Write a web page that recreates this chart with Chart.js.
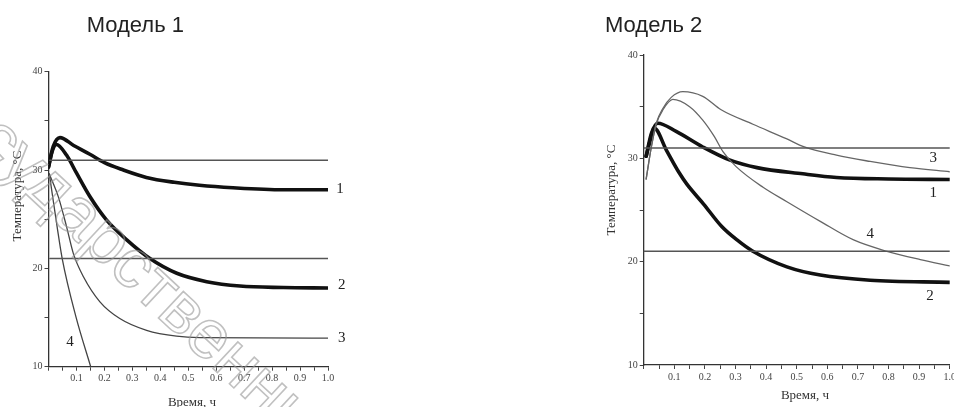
<!DOCTYPE html>
<html>
<head>
<meta charset="utf-8">
<script src="https://cdn.jsdelivr.net/npm/chart.js@4.4.1/dist/chart.umd.min.js"></script>
<style>
html,body{margin:0;padding:0;background:#fff;width:954px;height:407px;overflow:hidden;}
.box{position:absolute;top:0;}
#b1{left:0;width:400px;height:430px;}
#b2{left:560px;width:394px;height:430px;}
</style>
</head>
<body>
<div class="box" id="b1"><canvas id="c1" width="400" height="430"></canvas></div>
<div class="box" id="b2"><canvas id="c2" width="394" height="430"></canvas></div>
<script>
// ---------- text ----------
const chartTitles = ['Модель 1', 'Модель 2'];
const yAxisTitle = 'Температура, °С';
const xAxisTitle = 'Время, ч';
const curveNames = ['1', '2', '3', '4'];
const watermarkText = 'государственный';

// ---------- axes ----------
const xMin = 0, xMax = 1.0, xStep = 0.05;
const yMin = 10, yMax = 40, yStep = 5;
const xTickLabels = ['0.1','0.2','0.3','0.4','0.5','0.6','0.7','0.8','0.9','1.0'];
const yTickLabels = ['10','20','30','40'];

// ---------- Model 1 ----------
const m1_x1 = [0, 0.017, 0.041, 0.09, 0.148, 0.2, 0.268, 0.35, 0.45, 0.54, 0.66, 0.84, 1.0];
const m1_y1 = [30.3, 32.4, 33.3, 32.5, 31.6, 30.75, 30.0, 29.25, 28.75, 28.45, 28.2, 28.0, 28.0];
const m1_x2 = [0, 0.012, 0.028, 0.065, 0.1, 0.148, 0.208, 0.28, 0.363, 0.459, 0.566, 0.685, 0.84, 1.0];
const m1_y2 = [30.3, 31.8, 32.6, 31.5, 29.7, 27.3, 24.9, 22.9, 21.0, 19.5, 18.65, 18.2, 18.05, 18.0];
const m1_x3 = [0.003, 0.035, 0.065, 0.089, 0.125, 0.184, 0.255, 0.351, 0.458, 0.542, 1.0];
const m1_y3 = [29.6, 27.3, 24.2, 21.5, 19.15, 16.6, 14.9, 13.7, 13.1, 12.95, 12.9];
const m1_x4 = [0.003, 0.031, 0.049, 0.098, 0.151];
const m1_y4 = [29.6, 24.2, 21.0, 15.1, 10.0];
const m1_hx = [0.005, 1.0];
const m1_hA = [31, 31];
const m1_hB = [21, 21];
const m1_lblX = [1.043, 1.049, 1.049, 0.077];
const m1_lblY = [28.08, 18.31, 12.89, 12.54];

// ---------- Model 2 ----------
const m2_x1 = [0.008, 0.025, 0.046, 0.106, 0.193, 0.28, 0.37, 0.52, 0.63, 0.8, 1.0];
const m2_y1 = [30.2, 32.4, 33.4, 32.6, 31.1, 29.85, 29.1, 28.5, 28.15, 28.0, 27.95];
const m2_x2 = [0.008, 0.02, 0.035, 0.074, 0.117, 0.141, 0.195, 0.255, 0.305, 0.354, 0.468, 0.577, 0.74, 1.0];
const m2_y2 = [30.2, 31.6, 32.9, 30.8, 28.55, 27.5, 25.6, 23.4, 22.1, 21.06, 19.5, 18.7, 18.2, 18.0];
const m2_x3 = [0.008, 0.025, 0.041, 0.063, 0.09, 0.128, 0.193, 0.253, 0.357, 0.466, 0.525, 0.63, 0.74, 0.87, 1.0];
const m2_y3 = [28.0, 31.1, 33.4, 34.85, 35.9, 36.45, 36.0, 34.7, 33.3, 31.9, 31.1, 30.3, 29.7, 29.1, 28.7];
const m2_x4 = [0.008, 0.025, 0.041, 0.063, 0.095, 0.15, 0.193, 0.231, 0.259, 0.302, 0.39, 0.468, 0.577, 0.686, 0.795, 0.904, 1.0];
const m2_y4 = [28.0, 31.1, 33.3, 34.7, 35.7, 35.0, 33.7, 32.1, 30.65, 29.2, 27.2, 25.8, 23.9, 22.1, 21.0, 20.2, 19.6];
const m2_hx = [0, 1.0];
const m2_hA = [31, 31];
const m2_hB = [21, 21];
const m2_lblX = [0.936, 0.946, 0.946, 0.74];
const m2_lblY = [16.68, 26.62, 30.01, 22.68];
const m2_lblOrder = [1, 0, 2, 3]; // label index -> curve name index ("2","1","3","4")

// ---------- helpers ----------
const zip = (xs, ys) => xs.map((x, i) => ({x: x, y: ys[i]}));
const SERIF = '"Liberation Serif", "Times New Roman", serif';
const SANS = '"Liberation Sans", Arial, sans-serif';

function lineDs(xs, ys, color, width) {
  return {
    data: zip(xs, ys),
    borderColor: color,
    borderWidth: width,
    pointRadius: 0,
    fill: false,
    cubicInterpolationMode: 'monotone',
    borderCapStyle: 'round',
    borderJoinStyle: 'round'
  };
}

const extraPlugin = {
  id: 'extra',
  afterDraw(chart) {
    const o = chart.options.plugins.extra;
    const ctx = chart.ctx;
    const xs = chart.scales.x, ys = chart.scales.y;
    ctx.save();
    // chart title
    ctx.fillStyle = '#222';
    ctx.font = '22px ' + SANS;
    ctx.textAlign = 'left';
    ctx.textBaseline = 'alphabetic';
    ctx.fillText(o.title, o.titlePos[0], o.titlePos[1]);
    // axis titles
    ctx.fillStyle = '#333';
    ctx.font = '13px ' + SERIF;
    ctx.textAlign = 'center';
    ctx.textBaseline = 'middle';
    ctx.save();
    ctx.translate(o.yTitlePos[0], o.yTitlePos[1]);
    ctx.rotate(-Math.PI / 2);
    ctx.fillText(yAxisTitle, 0, 0);
    ctx.restore();
    ctx.textBaseline = 'alphabetic';
    ctx.fillText(xAxisTitle, o.xTitlePos[0], o.xTitlePos[1]);
    // curve labels
    ctx.font = '15px ' + SERIF;
    ctx.fillStyle = '#222';
    ctx.textBaseline = 'middle';
    o.lblX.forEach((lx, i) => {
      const name = curveNames[o.lblOrder ? o.lblOrder[i] : i];
      ctx.fillText(name, xs.getPixelForValue(lx), ys.getPixelForValue(o.lblY[i]));
    });
    // watermark
    if (o.watermark) {
      ctx.save();
      ctx.translate(-73, 102);
      ctx.rotate(43 * Math.PI / 180);
      ctx.font = '69px ' + SANS;
      ctx.textAlign = 'left';
      ctx.textBaseline = 'alphabetic';
      ctx.strokeStyle = 'rgba(150,150,150,0.6)';
      ctx.lineWidth = 1.6;
      ctx.strokeText(watermarkText, 0, 0);
      ctx.restore();
    }
    ctx.restore();
  }
};

function makeOptions(cfg) {
  return {
    responsive: false,
    animation: false,
    events: [],
    layout: {padding: {top: cfg.padTop, right: cfg.padRight, bottom: 0, left: 0}},
    plugins: {
      legend: {display: false},
      tooltip: {enabled: false},
      title: {display: false},
      extra: cfg.extra
    },
    scales: {
      x: {
        type: 'linear',
        min: xMin, max: xMax,
        grid: {display: true, drawOnChartArea: false, drawTicks: true, tickLength: 4, color: '#444', lineWidth: 1},
        border: {display: true, color: '#333', width: 1.3},
        ticks: {
          stepSize: xStep,
          autoSkip: false,
          maxRotation: 0,
          padding: cfg.xPad,
          color: '#444',
          font: {family: SERIF, size: 10},
          callback: (v) => {
            const k = Math.round(v * 10);
            if (Math.abs(v * 10 - k) < 1e-6 && k >= 1) return xTickLabels[k - 1];
            return '';
          }
        },
        afterFit: (s) => { s.height = cfg.xH; s.paddingLeft = 0; s.paddingRight = 0; }
      },
      y: {
        type: 'linear',
        min: yMin, max: yMax,
        grid: {display: true, drawOnChartArea: false, drawTicks: true, tickLength: 4, color: '#444', lineWidth: 1},
        border: {display: true, color: '#333', width: 1.3},
        ticks: {
          stepSize: yStep,
          autoSkip: false,
          padding: 2,
          color: '#444',
          font: {family: SERIF, size: 10},
          callback: (v) => {
            const idx = yTickLabels.indexOf(String(v));
            return idx >= 0 ? yTickLabels[idx] : '';
          }
        },
        afterFit: (s) => { s.width = cfg.yW; s.paddingTop = 0; s.paddingBottom = 0; }
      }
    }
  };
}

// ---------- Model 1 chart ----------
new Chart(document.getElementById('c1'), {
  type: 'line',
  data: {
    datasets: [
      lineDs(m1_hx, m1_hA, '#555', 1.5),
      lineDs(m1_hx, m1_hB, '#555', 1.5),
      lineDs(m1_x3, m1_y3, '#444', 1.3),
      lineDs(m1_x4, m1_y4, '#444', 1.3),
      lineDs(m1_x2, m1_y2, '#111', 3.6),
      lineDs(m1_x1, m1_y1, '#111', 3.6)
    ]
  },
  options: makeOptions({
    padTop: 71.7, padRight: 72, xH: 430 - 366.7, yW: 48.5, xPad: 2,
    extra: {
      title: chartTitles[0], titlePos: [86.7, 31.7],
      yTitlePos: [17.5, 196], xTitlePos: [192, 406],
      lblX: m1_lblX, lblY: m1_lblY, watermark: true
    }
  }),
  plugins: [extraPlugin]
});

// ---------- Model 2 chart ----------
new Chart(document.getElementById('c2'), {
  type: 'line',
  data: {
    datasets: [
      lineDs(m2_hx, m2_hA, '#555', 1.5),
      lineDs(m2_hx, m2_hB, '#555', 1.5),
      lineDs(m2_x3, m2_y3, '#666', 1.3),
      lineDs(m2_x4, m2_y4, '#666', 1.3),
      lineDs(m2_x2, m2_y2, '#111', 3.6),
      lineDs(m2_x1, m2_y1, '#111', 3.6)
    ]
  },
  options: makeOptions({
    padTop: 55, padRight: 394 - 389.7, xH: 430 - 365, yW: 83.7, xPad: 2,
    extra: {
      title: chartTitles[1], titlePos: [45, 31.7],
      yTitlePos: [51.7, 190], xTitlePos: [245, 398.5],
      lblX: m2_lblX, lblY: m2_lblY, lblOrder: m2_lblOrder, watermark: false
    }
  }),
  plugins: [extraPlugin]
});
</script>
</body>
</html>
